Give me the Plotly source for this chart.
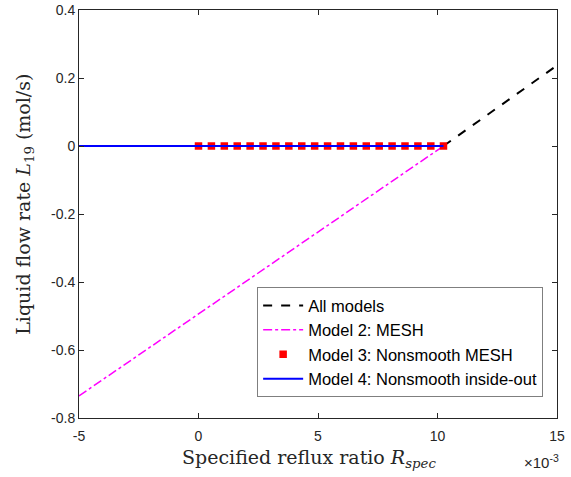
import plotly.graph_objects as go

# Data (x in units of reflux ratio, y in mol/s)
all_x = [0.01025, 0.015]
all_y = [0.0, 0.237]
mesh_x = [-0.005, 0.01025]
mesh_y = [-0.735, 0.0]
ns_x = [0.0, 0.00054, 0.00108, 0.00162, 0.00216, 0.0027, 0.00324, 0.00378, 0.00432, 0.00486,
        0.0054, 0.00594, 0.00648, 0.00702, 0.00756, 0.0081, 0.00864, 0.00918, 0.00972, 0.01025]
ns_y = [0.0] * len(ns_x)
io_x = [-0.005, 0.01025]
io_y = [0.0, 0.0]

xtick_vals = [-0.005, 0.0, 0.005, 0.01, 0.015]
xtick_text = ["-5", "0", "5", "10", "15"]
ytick_vals = [-0.8, -0.6, -0.4, -0.2, 0.0, 0.2, 0.4]
ytick_text = ["-0.8", "-0.6", "-0.4", "-0.2", "0", "0.2", "0.4"]

fig = go.Figure()
fig.add_trace(go.Scatter(x=all_x, y=all_y, mode="lines", name="All models",
                         line=dict(color="black", dash="dash", width=2)))
fig.add_trace(go.Scatter(x=mesh_x, y=mesh_y, mode="lines", name="Model 2: MESH",
                         line=dict(color="#ff00ff", dash="dashdot", width=1.5)))
fig.add_trace(go.Scatter(x=ns_x, y=ns_y, mode="markers", name="Model 3: Nonsmooth MESH",
                         marker=dict(color="red", symbol="square", size=7.5)))
fig.add_trace(go.Scatter(x=io_x, y=io_y, mode="lines", name="Model 4: Nonsmooth inside-out",
                         line=dict(color="blue", width=2)))

axis_common = dict(showline=True, mirror="ticks", linecolor="#262626", linewidth=1,
                   ticks="inside", ticklen=5, tickcolor="#262626", showgrid=False,
                   zeroline=False, automargin=False,
                   tickfont=dict(family="Liberation Sans, Arial", size=14, color="#262626"))

title_font = dict(family="DejaVu Serif", size=19, color="#262626")

fig.update_layout(
    width=571, height=477,
    margin=dict(l=79, r=14, t=10, b=59),
    paper_bgcolor="white", plot_bgcolor="white",
    showlegend=True,
    legend=dict(x=0.971, y=0.051, xanchor="right", yanchor="bottom",
                bgcolor="white", bordercolor="#7f7f7f", borderwidth=1,
                font=dict(family="Liberation Sans, Arial", size=16.5, color="black"),
                tracegroupgap=0, itemwidth=40),
    xaxis=dict(range=[-0.005, 0.015], tickvals=xtick_vals, ticktext=xtick_text,
               ticklabelstandoff=5, **axis_common),
    yaxis=dict(range=[-0.8, 0.4], tickvals=ytick_vals, ticktext=ytick_text,
               **axis_common),
)

fig.add_annotation(xref="paper", yref="paper", x=0.482, y=-0.1, xanchor="center", yanchor="middle",
                   text="Specified reflux ratio <i>R</i><sub><i>spec</i></sub>", showarrow=False,
                   font=title_font)
fig.add_annotation(xref="paper", yref="paper", x=-0.113, y=0.525, xanchor="center", yanchor="middle",
                   text="Liquid flow rate <i>L</i><sub>19</sub> (mol/s)", showarrow=False,
                   textangle=-90, font=title_font)
fig.add_annotation(xref="paper", yref="paper", x=1.009, y=-0.078, xanchor="right", yanchor="top",
                   text="×10<sup>-3</sup>", showarrow=False,
                   font=dict(family="Liberation Sans, Arial", size=15, color="#262626"))

fig.write_html("out.html", post_script="document.body.style.margin='0';",
               config={"displayModeBar": False})
